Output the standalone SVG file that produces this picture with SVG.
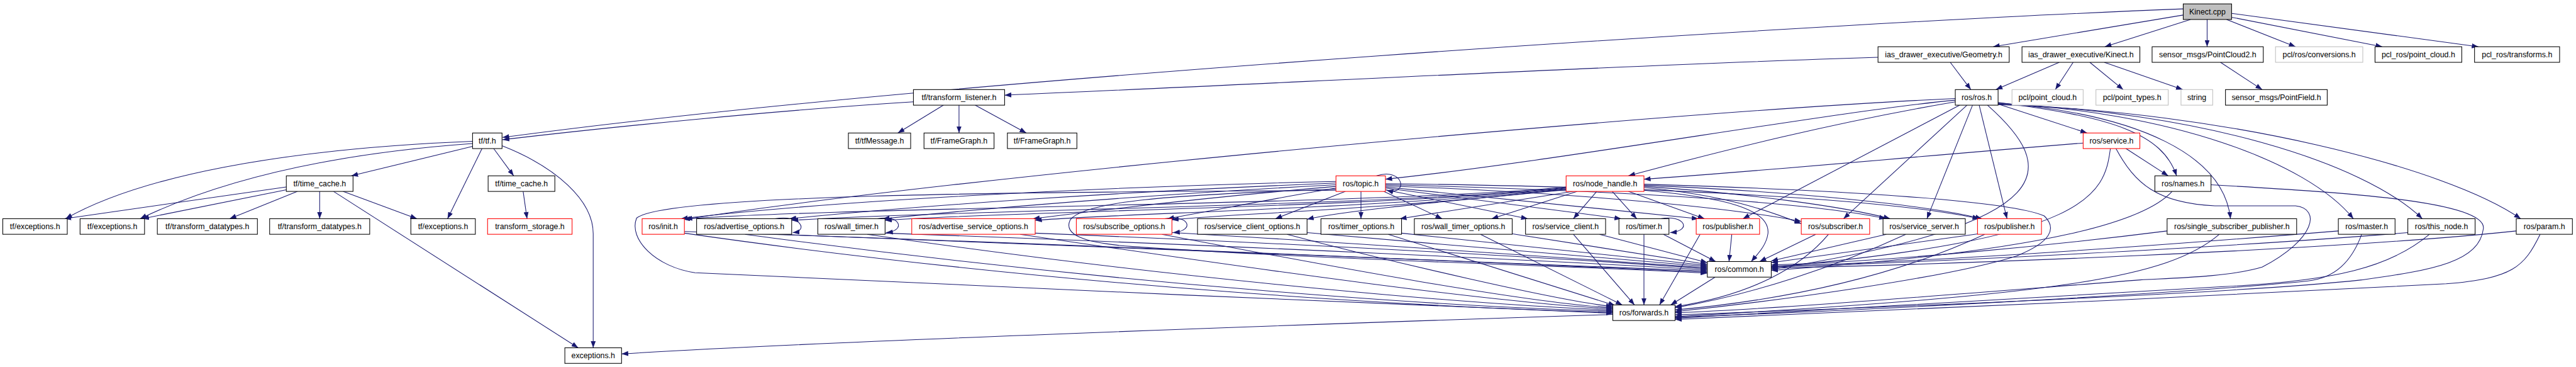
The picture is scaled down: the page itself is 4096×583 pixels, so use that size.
<svg xmlns="http://www.w3.org/2000/svg" width="4096" height="583" viewBox="0 0 4096 583">
<style>
.n rect{fill:#fff;stroke:#000;stroke-width:1.2}
.n.red rect{stroke:#ff0000}
.n.gray rect{stroke:#bfbfbf}
.n.root rect{fill:#bfbfbf}
.n text{font-family:"Liberation Sans",Arial,sans-serif;font-size:14px;text-anchor:middle;fill:#000}
.e path{fill:none;stroke:#191970;stroke-width:1.2;marker-end:url(#a)}
</style>
<defs>
<marker id="a" markerUnits="userSpaceOnUse" markerWidth="13" markerHeight="9" refX="12" refY="4.5" orient="auto"><path d="M0,0L12,4.5L0,9z" fill="#191970"/></marker>
</defs>
<rect width="4096" height="583" fill="#fff"/>
<g transform="scale(0.884)">
<g id="edges" class="e">
<path d="M3927,16 C3300,40 1700,140 904,247"/>
<path d="M3927,27 L3585,84"/>
<path d="M3940,35 L3786,84"/>
<path d="M3970,35 L3970,84"/>
<path d="M4005,35 L4129,84"/>
<path d="M4014,31 L4285,84"/>
<path d="M4014,24 L4458,84"/>
<path d="M3378,103 C2900,118 2300,150 1807,171"/>
<path d="M3508,112 L3545,161"/>
<path d="M3704,112 L3590,161"/>
<path d="M3729,112 L3697,161"/>
<path d="M3759,112 L3819,161"/>
<path d="M3785,112 L3926,161"/>
<path d="M3994,112 L4069,161"/>
<path d="M1643,183 C1400,198 1100,228 904,251"/>
<path d="M1697,189 L1615,239"/>
<path d="M1725,189 L1725,239"/>
<path d="M1754,189 L1846,239"/>
<path d="M850,254 C500,268 250,318 118,393"/>
<path d="M850,258 C600,276 400,322 252,393"/>
<path d="M850,263 L632,316"/>
<path d="M867,267 L805,393"/>
<path d="M888,267 L924,316"/>
<path d="M903,262 C1000,300 1067,360 1067,420 L1067,625"/>
<path d="M515,336 L116,393"/>
<path d="M515,341 L256,393"/>
<path d="M535,344 L413,393"/>
<path d="M575,344 L575,393"/>
<path d="M617,344 L750,393"/>
<path d="M600,344 L1040,625"/>
<path d="M941,344 L948,393"/>
<path d="M3747,257 C3400,285 3200,305 2957,322"/>
<path d="M3796,267 C3785,350 3760,430 3186,480"/>
<path d="M3824,267 L3900,316"/>
<path d="M3806,267 C3840,330 3880,365 3984,370 L4129,370 C4175,375 4165,430 4069,480 C4010,498 3900,500 3850,503 C3500,530 3200,555 3013,562"/>
<path d="M3594,187 L3754,239"/>
<path d="M3517,177 C3000,200 1700,320 1233,394"/>
<path d="M3517,180 C3300,200 2800,290 2492,322"/>
<path d="M3517,183 C3300,220 3100,270 2929,316"/>
<path d="M3525,189 L3135,393"/>
<path d="M3538,189 L3316,393"/>
<path d="M3548,189 L3466,393"/>
<path d="M3560,189 L3610,393"/>
<path d="M3575,189 C3700,300 3720,400 3186,484"/>
<path d="M3594,184 C3800,210 3890,240 3915,316"/>
<path d="M3594,185 C3850,205 4000,280 4012,393"/>
<path d="M3594,186 C3900,200 4150,290 4233,393"/>
<path d="M3594,187 C3950,200 4250,290 4357,393"/>
<path d="M3594,188 C4000,200 4400,300 4534,393"/>
<path d="M3907,344 C3860,395 3700,450 3186,486"/>
<path d="M3977,332 C4200,345 4470,360 4467,410 C4460,470 4380,485 4248,503 C4000,530 3300,555 3013,566"/>
<path d="M3898,415 C3700,440 3400,470 3186,476"/>
<path d="M3992,421 C3900,500 3700,530 3013,569"/>
<path d="M4206,415 C3900,440 3500,470 3186,478"/>
<path d="M4248,421 C4230,470 4200,500 4150,505 C3900,530 3300,560 3013,570"/>
<path d="M4331,418 C4000,445 3500,470 3186,480"/>
<path d="M4370,421 C4300,480 4200,505 4000,515 C3600,540 3200,560 3013,572"/>
<path d="M4526,415 C4200,450 3500,475 3186,482"/>
<path d="M4569,421 C4540,480 4520,500 4400,510 C4000,530 3300,565 3013,574"/>
<path d="M3560,420 L3186,472"/>
<path d="M3570,421 C3400,500 3200,540 3013,557"/>
<path d="M3393,421 L3186,469"/>
<path d="M3428,421 C3300,480 3150,530 3013,553"/>
<path d="M3266,421 L3165,470"/>
<path d="M3289,421 C3240,480 3150,530 3013,551"/>
<path d="M3115,421 L3110,470"/>
<path d="M3058,421 L2985,548"/>
<path d="M3085,498 L3005,548"/>
<path d="M2957,421 L2957,548"/>
<path d="M2992,421 L3086,470"/>
<path d="M2830,421 L2940,548"/>
<path d="M2877,421 L3071,472"/>
<path d="M2663,421 L2918,548"/>
<path d="M2719,420 L3071,475"/>
<path d="M2497,421 L2905,549"/>
<path d="M2521,419 L3071,477"/>
<path d="M2315,421 C2500,470 2800,540 2901,551"/>
<path d="M2351,418 C2600,440 2900,465 3071,479"/>
<path d="M2090,421 C2400,480 2750,545 2901,553"/>
<path d="M2108,418 C2500,440 2900,470 3071,481"/>
<path d="M1835,421 C2300,490 2700,545 2901,555"/>
<path d="M1862,419 C2400,440 2900,470 3071,483"/>
<path d="M1560,421 C2100,500 2650,548 2901,557"/>
<path d="M1592,419 C2200,440 2850,472 3071,485"/>
<path d="M1340,421 C2000,510 2600,552 2901,559"/>
<path d="M1400,421 C2100,445 2800,475 3071,487"/>
<path d="M1231,419 C1900,515 2600,555 2901,561"/>
<path d="M1231,416 C2000,440 2800,478 3071,489"/>
<path d="M2901,565 C2500,578 1500,612 1118,636"/>
<path d="M2403,326 C2000,335 1500,360 1225,393"/>
<path d="M2403,329 C2000,345 1650,370 1420,393"/>
<path d="M2403,332 C2100,348 1800,372 1588,393"/>
<path d="M2403,335 C2200,352 2000,375 1858,393"/>
<path d="M2403,338 C2300,355 2200,375 2100,393"/>
<path d="M2420,344 L2294,393"/>
<path d="M2448,344 L2448,393"/>
<path d="M2489,344 L2594,393"/>
<path d="M2492,341 L2748,393"/>
<path d="M2492,338 L2916,393"/>
<path d="M2492,336 L3055,393"/>
<path d="M2492,334 C2800,345 3100,370 3240,398"/>
<path d="M2492,332 C2900,342 3250,362 3392,393"/>
<path d="M2492,330 C3000,336 3400,358 3560,393"/>
<path d="M2403,340 C2100,350 1950,362 1925,395 C1912,422 1950,437 2037,443 C2400,468 2900,480 3071,491"/>
<path d="M2403,342 C2000,345 1200,345 1145,392 C1130,430 1180,480 1250,490 C1500,505 2500,545 2901,563"/>
<path d="M2476,316 C2525,300 2535,352 2494,342"/>
<path d="M2817,336 C2500,368 1500,372 1229,394"/>
<path d="M2817,337 C2500,370 1700,378 1424,396"/>
<path d="M2817,338 C2500,372 1800,380 1592,396"/>
<path d="M2817,339 C2500,374 2000,384 1862,396"/>
<path d="M2817,340 C2500,376 2200,385 2108,395"/>
<path d="M2817,341 C2600,362 2420,378 2351,394"/>
<path d="M2830,344 L2518,393"/>
<path d="M2837,344 L2683,393"/>
<path d="M2872,344 L2830,393"/>
<path d="M2900,344 L2944,393"/>
<path d="M2929,344 L3066,393"/>
<path d="M2957,337 C3100,350 3180,378 3240,402"/>
<path d="M2957,335 C3150,348 3320,372 3400,393"/>
<path d="M2957,333 C3200,343 3450,365 3565,393"/>
<path d="M2957,342 C3100,355 3185,375 3180,420 C3177,442 3160,458 3150,470"/>
<path d="M2957,331 C3200,338 3600,355 3677,388 C3700,410 3690,435 3627,460 C3500,500 3200,540 3013,560"/>
<path d="M1394,393 C1440,385 1455,415 1426,418"/>
<path d="M1578,393 C1620,385 1630,415 1594,418"/>
<path d="M2095,393 C2140,385 2150,415 2110,418"/>
<path d="M2987,393 C3030,385 3045,415 3004,418"/>
</g>
<g id="n_kinect_cpp" class="n root"><rect x="3927" y="7" width="87" height="28"/><text x="3970.5" y="26">Kinect.cpp</text></g>
<g id="n_geometry" class="n"><rect x="3378" y="84" width="236" height="28"/><text x="3496" y="103">ias_drawer_executive/Geometry.h</text></g>
<g id="n_kinect_h" class="n"><rect x="3637" y="84" width="212" height="28"/><text x="3743" y="103">ias_drawer_executive/Kinect.h</text></g>
<g id="n_pointcloud2" class="n"><rect x="3871" y="84" width="200" height="28"/><text x="3971" y="103">sensor_msgs/PointCloud2.h</text></g>
<g id="n_pcl_conv" class="n gray"><rect x="4093" y="84" width="157" height="28"/><text x="4171.5" y="103">pcl/ros/conversions.h</text></g>
<g id="n_pclros_pc" class="n"><rect x="4272" y="84" width="156" height="28"/><text x="4350" y="103">pcl_ros/point_cloud.h</text></g>
<g id="n_pclros_tf" class="n"><rect x="4451" y="84" width="153" height="28"/><text x="4527.5" y="103">pcl_ros/transforms.h</text></g>
<g id="n_tf_listener" class="n"><rect x="1643" y="161" width="164" height="28"/><text x="1725" y="180">tf/transform_listener.h</text></g>
<g id="n_ros_ros" class="n"><rect x="3517" y="161" width="77" height="28"/><text x="3555.5" y="180">ros/ros.h</text></g>
<g id="n_pcl_pc" class="n gray"><rect x="3619" y="161" width="128" height="28"/><text x="3683" y="180">pcl/point_cloud.h</text></g>
<g id="n_pcl_pt" class="n gray"><rect x="3770" y="161" width="130" height="28"/><text x="3835" y="180">pcl/point_types.h</text></g>
<g id="n_string" class="n gray"><rect x="3923" y="161" width="57" height="28"/><text x="3951.5" y="180">string</text></g>
<g id="n_pointfield" class="n"><rect x="4003" y="161" width="183" height="28"/><text x="4094.5" y="180">sensor_msgs/PointField.h</text></g>
<g id="n_tf_tf" class="n"><rect x="850" y="239" width="53" height="28"/><text x="876.5" y="258">tf/tf.h</text></g>
<g id="n_tfmsg" class="n"><rect x="1526" y="239" width="112" height="28"/><text x="1582" y="258">tf/tfMessage.h</text></g>
<g id="n_fg1" class="n"><rect x="1662" y="239" width="126" height="28"/><text x="1725" y="258">tf/FrameGraph.h</text></g>
<g id="n_fg2" class="n"><rect x="1812" y="239" width="125" height="28"/><text x="1874.5" y="258">tf/FrameGraph.h</text></g>
<g id="n_service" class="n red"><rect x="3747" y="239" width="102" height="28"/><text x="3798" y="258">ros/service.h</text></g>
<g id="n_tc1" class="n"><rect x="515" y="316" width="120" height="28"/><text x="575" y="335">tf/time_cache.h</text></g>
<g id="n_tc2" class="n"><rect x="878" y="316" width="120" height="28"/><text x="938" y="335">tf/time_cache.h</text></g>
<g id="n_topic" class="n red"><rect x="2403" y="316" width="89" height="28"/><text x="2447.5" y="335">ros/topic.h</text></g>
<g id="n_nh" class="n red"><rect x="2817" y="316" width="140" height="28"/><text x="2887" y="335">ros/node_handle.h</text></g>
<g id="n_names" class="n"><rect x="3876" y="316" width="101" height="28"/><text x="3926.5" y="335">ros/names.h</text></g>
<g id="n_tfex1" class="n"><rect x="5" y="393" width="116" height="28"/><text x="63" y="412">tf/exceptions.h</text></g>
<g id="n_tfex2" class="n"><rect x="144" y="393" width="116" height="28"/><text x="202" y="412">tf/exceptions.h</text></g>
<g id="n_tftd1" class="n"><rect x="283" y="393" width="180" height="28"/><text x="373" y="412">tf/transform_datatypes.h</text></g>
<g id="n_tftd2" class="n"><rect x="485" y="393" width="180" height="28"/><text x="575" y="412">tf/transform_datatypes.h</text></g>
<g id="n_tfex3" class="n"><rect x="739" y="393" width="116" height="28"/><text x="797" y="412">tf/exceptions.h</text></g>
<g id="n_tstore" class="n red"><rect x="877" y="393" width="152" height="28"/><text x="953" y="412">transform_storage.h</text></g>
<g id="n_init" class="n red"><rect x="1155" y="393" width="76" height="28"/><text x="1193" y="412">ros/init.h</text></g>
<g id="n_advopt" class="n"><rect x="1253" y="393" width="171" height="28"/><text x="1338.5" y="412">ros/advertise_options.h</text></g>
<g id="n_walltimer" class="n"><rect x="1471" y="393" width="121" height="28"/><text x="1531.5" y="412">ros/wall_timer.h</text></g>
<g id="n_advsrvopt" class="n red"><rect x="1640" y="393" width="222" height="28"/><text x="1751" y="412">ros/advertise_service_options.h</text></g>
<g id="n_subopt" class="n red"><rect x="1936" y="393" width="172" height="28"/><text x="2022" y="412">ros/subscribe_options.h</text></g>
<g id="n_srvcliopt" class="n"><rect x="2154" y="393" width="197" height="28"/><text x="2252.5" y="412">ros/service_client_options.h</text></g>
<g id="n_timeropt" class="n"><rect x="2376" y="393" width="145" height="28"/><text x="2448.5" y="412">ros/timer_options.h</text></g>
<g id="n_walltimeropt" class="n"><rect x="2544" y="393" width="176" height="28"/><text x="2632" y="412">ros/wall_timer_options.h</text></g>
<g id="n_srvcli" class="n"><rect x="2744" y="393" width="144" height="28"/><text x="2816" y="412">ros/service_client.h</text></g>
<g id="n_timer" class="n"><rect x="2912" y="393" width="90" height="28"/><text x="2957" y="412">ros/timer.h</text></g>
<g id="n_pub1" class="n red"><rect x="3051" y="393" width="114" height="28"/><text x="3108" y="412">ros/publisher.h</text></g>
<g id="n_sub" class="n red"><rect x="3240" y="393" width="123" height="28"/><text x="3301.5" y="412">ros/subscriber.h</text></g>
<g id="n_srvsrv" class="n"><rect x="3387" y="393" width="148" height="28"/><text x="3461" y="412">ros/service_server.h</text></g>
<g id="n_pub2" class="n red"><rect x="3557" y="393" width="115" height="28"/><text x="3614.5" y="412">ros/publisher.h</text></g>
<g id="n_ssp" class="n"><rect x="3898" y="393" width="233" height="28"/><text x="4014.5" y="412">ros/single_subscriber_publisher.h</text></g>
<g id="n_master" class="n"><rect x="4206" y="393" width="102" height="28"/><text x="4257" y="412">ros/master.h</text></g>
<g id="n_thisnode" class="n"><rect x="4331" y="393" width="121" height="28"/><text x="4391.5" y="412">ros/this_node.h</text></g>
<g id="n_param" class="n"><rect x="4526" y="393" width="101" height="28"/><text x="4576.5" y="412">ros/param.h</text></g>
<g id="n_common" class="n"><rect x="3071" y="470" width="115" height="28"/><text x="3128.5" y="489">ros/common.h</text></g>
<g id="n_forwards" class="n"><rect x="2901" y="548" width="112" height="28"/><text x="2957" y="567">ros/forwards.h</text></g>
<g id="n_exceptions" class="n"><rect x="1016" y="625" width="102" height="28"/><text x="1067" y="644">exceptions.h</text></g>
</g>
</svg>
